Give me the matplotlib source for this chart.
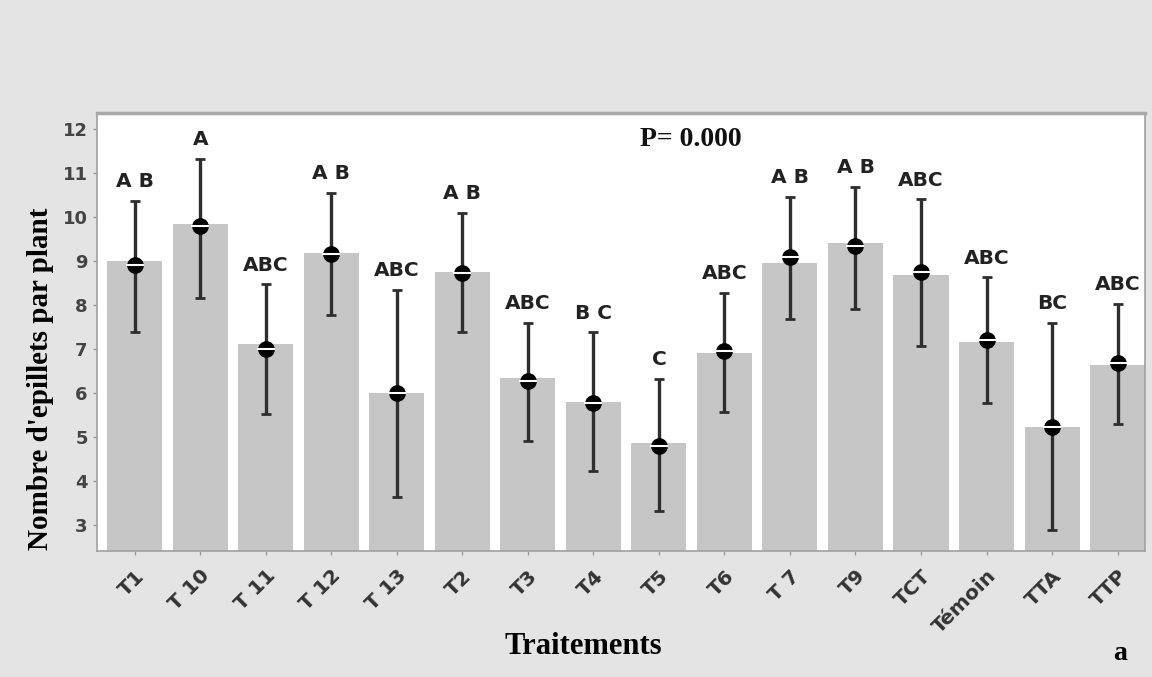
import matplotlib
matplotlib.use('Agg')
import matplotlib.pyplot as plt
import numpy as np

# data
traitements = ['T1', 'T 10', 'T 11', 'T 12', 'T 13', 'T2', 'T3', 'T4', 'T5', 'T6',
               'T 7', 'T9', 'TCT', 'Témoin', 'TTA', 'TTP']
moyennes = [9.0, 9.84, 7.11, 9.18, 6.0, 8.75, 6.34, 5.8, 4.86, 6.9,
            8.95, 9.41, 8.68, 7.16, 5.23, 6.64]
points = [8.9, 9.8, 7.0, 9.16, 6.0, 8.72, 6.27, 5.77, 4.8, 6.95,
          9.09, 9.34, 8.75, 7.2, 5.23, 6.68]
err_haut = [10.36, 11.32, 8.47, 10.54, 8.34, 10.1, 7.6, 7.38, 6.32, 8.27,
            10.45, 10.68, 10.4, 8.63, 7.6, 8.03]
err_bas = [7.39, 8.16, 5.53, 7.77, 3.64, 7.39, 4.9, 4.23, 3.32, 5.57,
           7.68, 7.91, 7.07, 5.78, 2.89, 5.3]
lettres = ['A B', 'A', 'ABC', 'A B', 'ABC', 'A B', 'ABC', 'B C', 'C', 'ABC',
           'A B', 'A B', 'ABC', 'ABC', 'BC', 'ABC']

serif = ['Liberation Serif', 'DejaVu Serif']

fig = plt.figure(figsize=(11.52, 6.77), dpi=100, facecolor='#e4e4e4')
ax = fig.add_axes([0.084, 0.186, 0.910, 0.647])
ax.set_facecolor('white')

x = np.arange(len(traitements))
ax.bar(x, np.array(moyennes) - 2.42, bottom=2.42, width=0.84, color='#c6c6c6', zorder=1)

pts = np.array(points)
yerr = [pts - np.array(err_bas), np.array(err_haut) - pts]
ax.errorbar(x, pts, yerr=yerr, fmt='none', ecolor='#2e2e2e', elinewidth=2.4,
            capsize=3.5, capthick=2, zorder=2)
ax.plot(x, pts, 'o', color='black', markersize=11, zorder=3)
ax.plot(x, pts, '_', color='white', markersize=13, markeredgewidth=1.5, zorder=4)

for xi, top, lab in zip(x, err_haut, lettres):
    ax.annotate(lab, (xi, top), xytext=(0, 7), textcoords='offset points',
                ha='center', va='bottom', fontsize=14.5, fontweight='bold',
                color='#222222', family='DejaVu Sans')

ax.text(0.518, 0.94, 'P= 0.000', transform=ax.transAxes, ha='left', va='center',
        fontsize=20, fontweight='bold', family=serif, color='#111111')

ax.set_xlim(-0.58, 15.42)
ax.set_ylim(2.41, 12.36)
ax.set_yticks(range(3, 13))
ax.set_xticks(x)
ax.set_xticklabels(traitements, rotation=45, ha='right', rotation_mode='anchor',
                   fontsize=14.5, fontweight='bold', color='#333333')
for lab in ax.get_yticklabels():
    lab.set_fontweight('bold')
    lab.set_fontsize(13)
    lab.set_color('#444444')
ax.tick_params(axis='both', length=3, color='#999999', width=1)
ax.tick_params(axis='x', pad=8)

for side in ['left', 'bottom', 'right']:
    ax.spines[side].set_color('#a0a0a0')
    ax.spines[side].set_linewidth(1.2)
ax.spines['top'].set_color('#a8a8a8')
ax.spines['top'].set_linewidth(2.5)

fig.text(0.035, 0.44, "Nombre d'epillets par plant", rotation=90, ha='center',
         va='center', fontsize=21, fontweight='bold', family=serif)
fig.text(0.506, 0.045, 'Traitements', ha='center', va='center', fontsize=22,
         fontweight='bold', family=serif)
fig.text(0.972, 0.035, 'a', ha='center', va='center', fontsize=20,
         fontweight='bold', family=serif)

fig.savefig('out.png', dpi=100, facecolor=fig.get_facecolor())
